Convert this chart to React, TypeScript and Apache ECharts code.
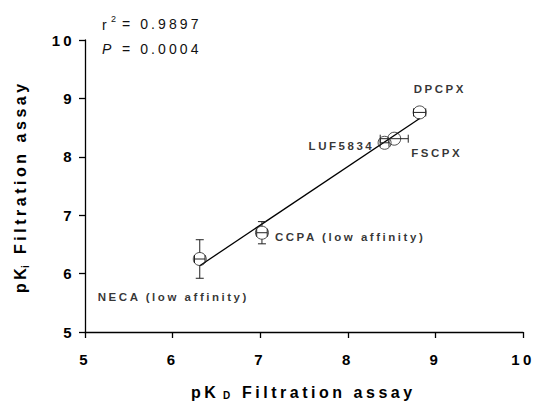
import React, { useEffect, useRef } from "react";
import * as echarts from "echarts";

// ---- data ----
const compounds = ["NECA (low affinity)", "CCPA (low affinity)", "LUF5834", "FSCPX", "DPCPX"];
const pKD = [6.31, 7.02, 8.42, 8.53, 8.82];
const pKi = [6.25, 6.7, 8.24, 8.31, 8.76];
const pKDErr = [0.06, 0.06, 0.05, 0.16, 0.07];
const pKiErr = [0.33, 0.19, 0.03, 0.03, 0.03];
const axisMin = 5;
const axisMax = 10;
const tickStep = 1;
const r2Text = "0.9897";
const pText = "0.0004";

// ---- layout (label offsets from point centre, px) ----
const labelOffsets: number[][] = [
  [-102, 38],
  [13, 4.5],
  [-76, 3.5],
  [17, 14],
  [-6, -23],
];

const FONT = "'Liberation Sans', Arial, Helvetica, sans-serif";

function fit(xs: number[], ys: number[]) {
  const n = xs.length;
  const mx = xs.reduce((a, b) => a + b, 0) / n;
  const my = ys.reduce((a, b) => a + b, 0) / n;
  let sxy = 0, sxx = 0;
  for (let i = 0; i < n; i++) {
    sxy += (xs[i] - mx) * (ys[i] - my);
    sxx += (xs[i] - mx) ** 2;
  }
  const slope = sxy / sxx;
  return { slope, intercept: my - slope * mx };
}

export default function App() {
  const ref = useRef<HTMLDivElement>(null);
  useEffect(() => {
    if (!ref.current) return;
    const chart = echarts.init(ref.current, null, { renderer: "svg" });
    const { slope, intercept } = fit(pKD, pKi);
    const x0 = Math.min(...pKD);
    const x1 = Math.max(...pKD);
    const lineData = [
      [x0, slope * x0 + intercept],
      [x1, slope * x1 + intercept],
    ];
    const errData = pKD.map((v, i) => [v, pKi[i], pKDErr[i], pKiErr[i]]);
    const pointData = pKD.map((v, i) => ({
      value: [v, pKi[i]],
      name: compounds[i],
      label: { offset: labelOffsets[i] },
    }));
    const R = 6.5;

    const axisCommon = {
      type: "value",
      min: axisMin,
      max: axisMax,
      interval: tickStep,
      splitLine: { show: false },
      axisLine: { show: true, lineStyle: { color: "#000", width: 1.3 } },
      axisTick: { show: true, inside: false, length: 6, lineStyle: { color: "#000", width: 1.3 } },
    };

    chart.setOption({
      animation: false,
      backgroundColor: "#fff",
      grid: { left: 85, right: 12, top: 40, bottom: 69, containLabel: false },
      xAxis: {
        ...axisCommon,
        axisLabel: { margin: 20, fontFamily: FONT, fontWeight: "bold", fontSize: 15, color: "#000" },
      },
      yAxis: {
        ...axisCommon,
        axisLabel: { margin: 10, fontFamily: FONT, fontWeight: "bold", fontSize: 15, color: "#000" },
      },
      series: [
        {
          type: "line",
          data: lineData,
          symbol: "none",
          silent: true,
          lineStyle: { color: "#000", width: 1.3 },
          z: 1,
        },
        {
          type: "custom",
          data: errData,
          silent: true,
          z: 2,
          renderItem: (params: any, api: any) => {
            const cx = api.value(0), cy = api.value(1), ex = api.value(2), ey = api.value(3);
            const c = api.coord([cx, cy]);
            const l = api.coord([cx - ex, cy]);
            const r = api.coord([cx + ex, cy]);
            const t = api.coord([cx, cy + ey]);
            const b = api.coord([cx, cy - ey]);
            const style = { stroke: "#222", lineWidth: 1, fill: "none" };
            const children: any[] = [];
            const hc = 4;
            children.push({ type: "line", shape: { x1: l[0], y1: c[1], x2: r[0], y2: c[1] }, style });
            children.push({ type: "line", shape: { x1: l[0], y1: c[1] - hc, x2: l[0], y2: c[1] + hc }, style });
            children.push({ type: "line", shape: { x1: r[0], y1: c[1] - hc, x2: r[0], y2: c[1] + hc }, style });
            if (c[1] - t[1] > R) {
              children.push({ type: "line", shape: { x1: c[0], y1: t[1], x2: c[0], y2: c[1] - R }, style });
              children.push({ type: "line", shape: { x1: c[0] - hc, y1: t[1], x2: c[0] + hc, y2: t[1] }, style });
            }
            if (b[1] - c[1] > R) {
              children.push({ type: "line", shape: { x1: c[0], y1: c[1] + R, x2: c[0], y2: b[1] }, style });
              children.push({ type: "line", shape: { x1: c[0] - hc, y1: b[1], x2: c[0] + hc, y2: b[1] }, style });
            }
            return { type: "group", children };
          },
        },
        {
          type: "scatter",
          data: pointData,
          symbol: "circle",
          symbolSize: 2 * R,
          z: 3,
          itemStyle: { color: "rgba(255,255,255,0)", borderColor: "#222", borderWidth: 1 },
          label: {
            show: true,
            position: "inside",
            align: "left",
            verticalAlign: "middle",
            formatter: "{b}",
            fontFamily: FONT,
            fontWeight: "bold",
            fontSize: 11.5,
            color: "#000",
          },
        },
      ],
      graphic: [
        // r^2 / P annotations
        { type: "text", x: 102, y: 25, style: { text: "r", font: `14px ${FONT}`, fill: "#111", verticalAlign: "middle", align: "left" } },
        { type: "text", x: 111, y: 19, style: { text: "2", font: `9px ${FONT}`, fill: "#111", verticalAlign: "middle", align: "left" } },
        { type: "text", x: 122, y: 24, style: { text: `= ${r2Text}`, font: `14px ${FONT}`, fill: "#111", verticalAlign: "middle", align: "left" } },
        { type: "text", x: 102, y: 48.5, style: { text: "P", font: `italic 14px ${FONT}`, fill: "#111", verticalAlign: "middle", align: "left" } },
        { type: "text", x: 122, y: 48.5, style: { text: `= ${pText}`, font: `14px ${FONT}`, fill: "#111", verticalAlign: "middle", align: "left" } },
        // x-axis title
        { type: "text", x: 191, y: 392, style: { text: "pK", font: `bold 16px ${FONT}`, fill: "#000", verticalAlign: "middle", align: "left" } },
        { type: "text", x: 223, y: 395, style: { text: "D", font: `bold 10px ${FONT}`, fill: "#000", verticalAlign: "middle", align: "left" } },
        { type: "text", x: 242, y: 392, style: { text: "Filtration assay", font: `bold 16px ${FONT}`, fill: "#000", verticalAlign: "middle", align: "left" } },
        // y-axis title
        { type: "text", x: 20, y: 293, rotation: Math.PI / 2, style: { text: "pK", font: `bold 16px ${FONT}`, fill: "#000", verticalAlign: "middle", align: "left" } },
        { type: "text", x: 25, y: 268, rotation: Math.PI / 2, style: { text: "i", font: `bold 10px ${FONT}`, fill: "#000", verticalAlign: "middle", align: "left" } },
        { type: "text", x: 20, y: 254, rotation: Math.PI / 2, style: { text: "Filtration assay", font: `bold 16px ${FONT}`, fill: "#000", verticalAlign: "middle", align: "left" } },
      ],
    });
    return () => chart.dispose();
  }, []);
  return (
    <>
      <style>{`#chartbox text { letter-spacing: 0.22em; }`}</style>
      <div
        id="chartbox"
        ref={ref}
        style={{ position: "fixed", left: 0, top: 0, width: 535, height: 401, background: "#fff" }}
      />
    </>
  );
}
